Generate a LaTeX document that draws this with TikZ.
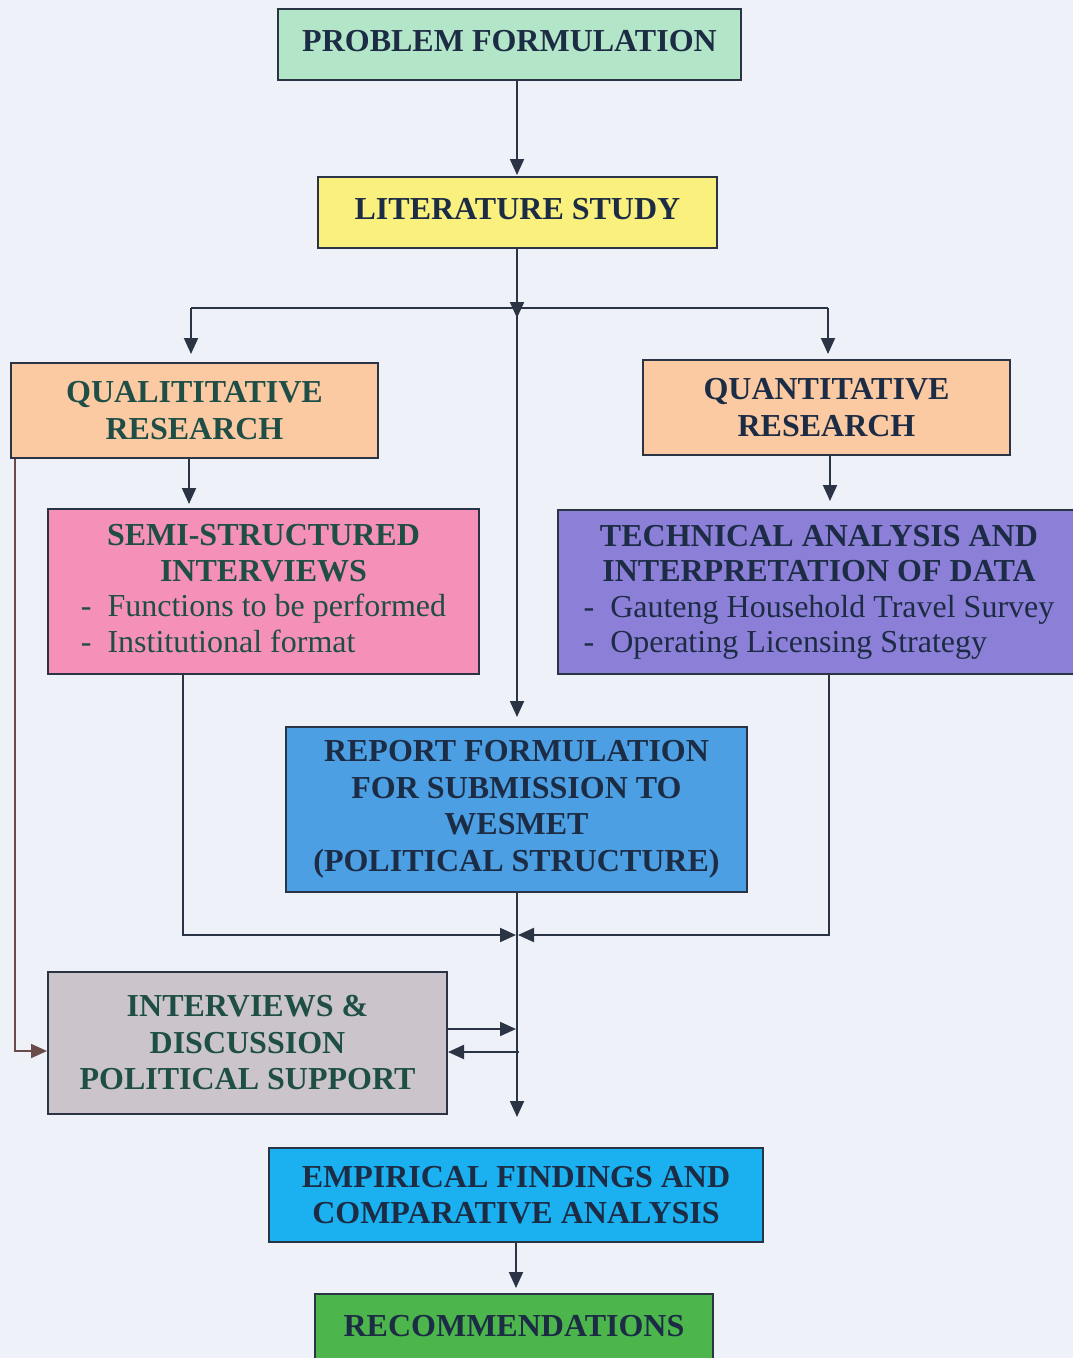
\documentclass[tikz,border=0pt]{standalone}
\usepackage{fontspec}
\setmainfont{Liberation Serif}
\usetikzlibrary{arrows.meta,calc}

\definecolor{bgcol}{HTML}{EEF1F8}
\definecolor{linecol}{HTML}{2B3445}
\definecolor{leftline}{HTML}{6B4A4A}
\definecolor{txtnavy}{HTML}{1C2C44}
\definecolor{txtteal}{HTML}{1F4E47}
\definecolor{cmint}{HTML}{B3E5C8}
\definecolor{cyellow}{HTML}{F9F07E}
\definecolor{cpeach}{HTML}{FCCAA2}
\definecolor{cpink}{HTML}{F590B8}
\definecolor{cpurple}{HTML}{8C7FD8}
\definecolor{cblue}{HTML}{4C9FE3}
\definecolor{cgray}{HTML}{CBC5CB}
\definecolor{ccyan}{HTML}{1BB0F0}
\definecolor{cgreen}{HTML}{4CB54C}

\tikzset{
  box/.style={draw=linecol, line width=2pt, align=center, inner sep=0pt,
    font=\fontsize{32}{36.5}\selectfont\bfseries, text=txtnavy},
  conn/.style={draw=linecol, line width=2pt},
  arr/.style={conn, -{Triangle[length=16pt,width=14pt]}},
}

\begin{document}
\begin{tikzpicture}[x=1pt,y=-1pt]
\useasboundingbox (0,0) rectangle (1073,1358);
\fill[bgcol] (0,0) rectangle (1073,1358);

% boxes
\node[box, fill=cmint, minimum width=463pt, minimum height=71pt, text depth=8pt] (prob) at (509.5,44.5) {PROBLEM FORMULATION};
\node[box, fill=cyellow, minimum width=399pt, minimum height=71pt, text depth=8pt] (lit) at (517.5,212.5) {LITERATURE STUDY};
\node[box, fill=cpeach, text=txtteal, minimum width=367pt, minimum height=95pt] (qual) at (194.5,410.5) {QUALITITATIVE\\RESEARCH};
\node[box, fill=cpeach, minimum width=367pt, minimum height=95pt] (quant) at (826.5,407.5) {QUANTITATIVE\\RESEARCH};
\node[box, fill=cpink, text=txtteal, minimum width=431pt, minimum height=165pt] (semi) at (263.5,591.5)
  {\begin{tabular}{@{}l@{}}
   \multicolumn{1}{@{}c@{}}{SEMI-STRUCTURED\hspace{26pt}}\\[-1pt]
   \multicolumn{1}{@{}c@{}}{INTERVIEWS\hspace{26pt}}\\[-1pt]
   \mdseries - \ Functions to be performed\\[-1pt]
   \mdseries - \ Institutional format
   \end{tabular}};
\node[box, fill=cpurple, minimum width=522pt, minimum height=164pt] (tech) at (819,592)
  {\begin{tabular}{@{}l@{}}
   \multicolumn{1}{@{}c@{}}{TECHNICAL ANALYSIS AND}\\[-1pt]
   \multicolumn{1}{@{}c@{}}{INTERPRETATION OF DATA}\\[-1pt]
   \mdseries - \ Gauteng Household Travel Survey\\[-1pt]
   \mdseries - \ Operating Licensing Strategy
   \end{tabular}};
\node[box, fill=cblue, minimum width=461pt, minimum height=165pt] (report) at (516.5,809.5)
  {REPORT FORMULATION\\FOR SUBMISSION TO\\WESMET\\(POLITICAL STRUCTURE)};
\node[box, fill=cgray, text=txtteal, minimum width=399pt, minimum height=142pt] (inter) at (247.5,1043)
  {INTERVIEWS \&\\DISCUSSION\\POLITICAL SUPPORT};
\node[box, fill=ccyan, minimum width=494pt, minimum height=94pt] (emp) at (516,1195)
  {EMPIRICAL FINDINGS AND\\COMPARATIVE ANALYSIS};
\node[box, fill=cgreen, anchor=north, minimum width=398pt, text height=42pt, text depth=42pt] (rec) at (514,1293)
  {RECOMMENDATIONS};

% junction points
\coordinate (split) at (517,308);
\coordinate (qa) at (191,308);
\coordinate (qb) at (828,308);
\coordinate (merge) at (517,935);
\coordinate (down) at (517,1117);

% top of the flow
\draw[arr, shorten >=1pt] (split |- prob.south) -- (split |- lit.north);
\draw[arr] (split |- lit.south) -- ([yshift=-10pt]split);
\draw[conn] (qa) -- (qb);
\draw[arr, shorten >=8pt] (qa) -- (qa |- qual.north);
\draw[arr, shorten >=5pt] (qb) -- (qb |- quant.north);
\draw[arr, shorten >=9pt] (split) -- (split |- report.north);

% research branches
\draw[arr, shorten >=4pt] ([xshift=-5.5pt]qual.south) -- ([xshift=-5.5pt]qual.south |- semi.north);
\draw[arr, shorten >=8pt] ([xshift=3.5pt]quant.south) -- ([xshift=3.5pt]quant.south |- tech.north);
\draw[arr, draw=leftline] ([xshift=5pt]qual.south west) |- ([yshift=-8pt]inter.west);

% merge into the central line
\draw[arr] ([xshift=-80.5pt]semi.south) |- ([xshift=-1pt]merge);
\draw[arr] ([xshift=10pt]tech.south) |- ([xshift=1pt]merge);
\draw[arr] (split |- report.south) -- (down);
\draw[arr] ([yshift=14pt]inter.east) -- ([yshift=14pt,xshift=-1pt]inter.east -| merge);
\draw[arr] ([yshift=-9pt,xshift=2pt]inter.east -| merge) -- ([yshift=-9pt]inter.east);

% bottom of the flow
\draw[arr, shorten >=5pt] (emp.south) -- (emp.south |- rec.north);
\end{tikzpicture}
\end{document}
